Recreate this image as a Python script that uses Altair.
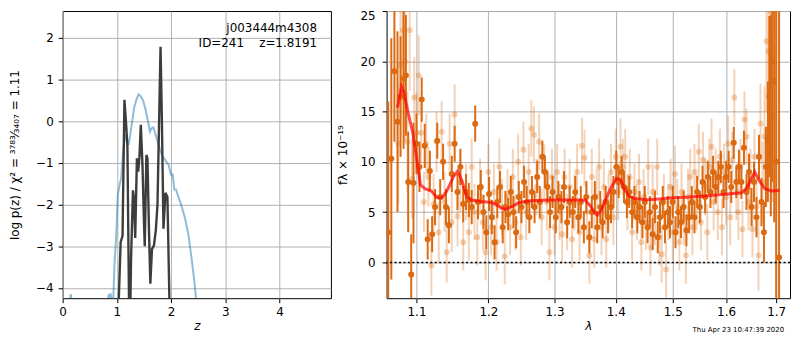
import altair as alt
import pandas as pd

# ---------------- left panel: p(z) ----------------
blue_z = [0.0, 0.12, 0.15, 0.18, 0.80, 0.83, 0.848, 0.865, 0.885, 0.905, 0.93, 0.958, 0.988, 1.018,
          1.04, 1.079, 1.12, 1.158, 1.19, 1.218, 1.26, 1.32, 1.364, 1.40, 1.44, 1.485, 1.533, 1.576,
          1.61, 1.64, 1.673, 1.715, 1.776, 1.836, 1.897, 1.958, 1.99, 2.006, 2.03, 2.06, 2.09, 2.14,
          2.20, 2.26, 2.32, 2.38, 2.43, 2.46, 2.55]
blue_y = [-6, -4.5, -4.15, -4.5, -6, -4.4, -4.15, -4.22, -4.13, -4.3, -4.4, -3.38, -2.76, -1.76,
          -1.6, -1.37, -0.67, -0.32, -0.45, -0.57, -0.21, 0.33, 0.53, 0.64, 0.6, 0.49, 0.26, -0.02,
          -0.25, -0.17, -0.15, -0.32, -0.6, -0.83, -0.94, -1.06, -1.25, -1.29, -1.28, -1.64, -1.64, -1.83,
          -2.06, -2.34, -2.72, -3.3, -3.84, -4.25, -5.5]

black_z = [1.00, 1.035, 1.07, 1.105, 1.14, 1.17, 1.195, 1.228, 1.245, 1.262, 1.297, 1.315, 1.339,
           1.37, 1.394, 1.418, 1.442, 1.473, 1.50, 1.515, 1.545, 1.565, 1.594, 1.618, 1.648, 1.685,
           1.72, 1.75, 1.806, 1.83, 1.86, 1.897, 1.933, 1.97, 2.0]
black_y = [-6, -4.3, -2.9, -2.75, 0.51, -0.05, -0.6, -4.8, -4.8, -3.3, -1.66, -1.85, -2.8,
           -0.89, -1.21, -0.83, -0.09, -1.06, -2.4, -3.0, -0.81, -0.9, -2.68, -3.9, -3.07, -2.98,
           -2.6, -1.99, 1.78, 0.1, -2.58, -1.72, -1.82, -4.3, -6]

z_ticks = [0, 1, 2, 3, 4]
logp_ticks = [-4, -3, -2, -1, 0, 1, 2]
obj_name = "j003444m4308"
obj_info = "ID=241\u00a0\u00a0\u00a0\u00a0z=1.8191"

# ---------------- right panel: spectrum ----------------
dark_lam = [1.063, 1.067, 1.071, 1.075, 1.079, 1.083, 1.086, 1.089, 1.093, 1.096, 1.100, 1.104, 1.107,
            1.111, 1.115, 1.118, 1.121, 1.125, 1.128, 1.132, 1.136, 1.140, 1.144, 1.148, 1.152, 1.156,
            1.160, 1.164, 1.168, 1.172, 1.176, 1.181, 1.185, 1.189, 1.193, 1.197, 1.201, 1.205, 1.209,
            1.213, 1.217, 1.221, 1.225, 1.229, 1.233, 1.237, 1.241, 1.245, 1.249, 1.253, 1.257, 1.261,
            1.265, 1.269, 1.273, 1.277, 1.281, 1.285, 1.289, 1.293, 1.297, 1.302, 1.306, 1.311, 1.315,
            1.320, 1.324, 1.329, 1.333, 1.338, 1.342, 1.347, 1.351, 1.356, 1.360, 1.365, 1.369, 1.374,
            1.378, 1.383, 1.387, 1.392, 1.396, 1.401, 1.405, 1.410, 1.414, 1.419, 1.423, 1.428, 1.432,
            1.437, 1.441, 1.446, 1.450, 1.455, 1.459, 1.464, 1.468, 1.473, 1.477, 1.482, 1.486, 1.491,
            1.495, 1.500, 1.505, 1.510, 1.515, 1.520, 1.525, 1.530, 1.535, 1.540, 1.545, 1.550, 1.555,
            1.560, 1.565, 1.570, 1.575, 1.580, 1.585, 1.590, 1.595, 1.600, 1.605, 1.610, 1.615, 1.620,
            1.625, 1.630, 1.635, 1.640, 1.645, 1.650, 1.655, 1.660, 1.665, 1.670, 1.675, 1.679, 1.683,
            1.686, 1.689, 1.692, 1.696, 1.700, 1.706]
dark_flux = [3.0, 10.3, 19.0, 14.0, 16.5, 18.3, 18.6, 8.0, -1.2, 7.9, 11.8, 9.5, 16.2,
             11.6, 2.3, 9.1, 2.8, 5.5, 12.1, 6.5, 10.0, 5.5, 3.7, 8.8, 11.8, 7.0,
             9.5, 5.8, 7.0, 6.2, 5.5, 13.8, 6.0, 7.5, 5.0, 3.0, 6.8, 4.5, 2.0,
             6.0, 7.5, 3.5, 5.5, 4.8, 7.0, 5.0, 3.0, 6.5, 5.5, 8.0, 6.0, 4.5,
             7.0, 5.5, 8.5, 6.0, 10.5, 9.0, 7.5, 5.0, 7.0, 4.5, 6.5, 5.5, 7.5,
             4.0, 6.0, 5.0, 7.0, 4.5, 6.0, 3.5, 6.5, 2.5, 5.0, 6.5, 3.5, 5.5,
             4.0, 6.0, 4.5, 5.5, 7.0, 9.5, 8.0, 9.0, 7.5, 6.0, 7.0, 5.0, 6.0,
             4.5, 5.5, 4.0, 6.0, 3.5, 5.0, 2.8, 5.5, 2.5, 4.5, 6.0, 3.5, 5.0,
             4.0, 6.0, 3.0, 5.0, 4.0, 5.5, 3.2, 4.5, 6.0, 4.5, 7.0, 5.5, 8.0,
             6.5, 8.5, 7.0, 9.0, 7.5, 8.5, 9.5, 7.0, 8.5, 9.5, 7.5, 11.9, 8.0,
             9.5, 8.0, 11.4, 7.0, 9.0, 5.5, 8.0, 4.5, 10.5, 6.0, 3.0, 9.5, 12.0,
             16.5, 14.6, 20.0, 18.0, 10.0, 0.5]
dark_err = [13, 12, 7, 9, 6, 7, 6, 5, 4, 6, 3, 2.5, 2.2,
            2.2, 2.0, 2.0, 1.8, 1.8, 1.8, 1.8, 1.8, 1.8, 1.8, 1.8, 1.8, 1.8,
            1.8, 1.8, 1.8, 1.7, 1.7, 1.8, 1.7, 1.7, 1.7, 1.7, 1.7, 1.7, 1.7,
            1.6, 1.6, 1.6, 1.6, 1.6, 1.6, 1.6, 1.6, 1.6, 1.6, 1.6, 1.6, 1.6,
            1.6, 1.6, 1.6, 1.6, 1.6, 1.6, 1.6, 1.6, 1.6, 1.6, 1.6, 1.6, 1.6,
            1.6, 1.6, 1.6, 1.6, 1.6, 1.6, 1.6, 1.6, 1.6, 1.6, 1.6, 1.6, 1.6,
            1.6, 1.6, 1.6, 1.6, 1.6, 1.6, 1.6, 1.6, 1.6, 1.6, 1.6, 1.6, 1.6,
            1.6, 1.6, 1.6, 1.6, 1.6, 1.6, 1.6, 1.6, 1.6, 1.6, 1.6, 1.6, 1.6,
            1.6, 1.6, 1.6, 1.6, 1.6, 1.6, 1.6, 1.6, 1.6, 1.6, 1.6, 1.6, 1.6,
            1.6, 1.6, 1.6, 1.6, 1.6, 1.6, 1.6, 1.6, 1.6, 1.6, 1.6, 1.6, 1.6,
            1.7, 1.7, 1.7, 1.8, 1.8, 1.9, 2.0, 2.0, 2.2, 2.4, 3.0, 4.0, 6.0,
            8, 10, 12, 14, 15, 25]

light_lam = [1.076, 1.079, 1.082, 1.085, 1.088, 1.091, 1.094, 1.097, 1.100, 1.103, 1.106, 1.110, 1.113,
             1.116, 1.120, 1.123, 1.127, 1.130, 1.134, 1.138, 1.141, 1.145, 1.148, 1.152, 1.156, 1.160,
             1.164, 1.168, 1.172, 1.176, 1.180, 1.184, 1.188, 1.192, 1.196, 1.200, 1.204, 1.208, 1.212,
             1.216, 1.220, 1.224, 1.228, 1.232, 1.236, 1.240, 1.244, 1.248, 1.252, 1.256, 1.260, 1.264,
             1.268, 1.272, 1.276, 1.280, 1.284, 1.288, 1.292, 1.296, 1.300, 1.304, 1.308, 1.312, 1.316,
             1.320, 1.324, 1.328, 1.332, 1.336, 1.340, 1.344, 1.348, 1.352, 1.356, 1.360, 1.364, 1.368,
             1.372, 1.376, 1.380, 1.384, 1.388, 1.392, 1.396, 1.400, 1.404, 1.408, 1.412, 1.416, 1.420,
             1.424, 1.428, 1.432, 1.436, 1.440, 1.444, 1.448, 1.452, 1.456, 1.460, 1.464, 1.468, 1.472,
             1.476, 1.480, 1.484, 1.488, 1.492, 1.496, 1.500, 1.504, 1.508, 1.512, 1.516, 1.520, 1.524,
             1.528, 1.532, 1.536, 1.540, 1.544, 1.548, 1.552, 1.556, 1.560, 1.564, 1.568, 1.572, 1.576,
             1.580, 1.584, 1.588, 1.592, 1.596, 1.600, 1.604, 1.608, 1.612, 1.616, 1.620, 1.624, 1.628,
             1.632, 1.636, 1.640, 1.644, 1.648, 1.652, 1.656, 1.660, 1.664, 1.668, 1.672, 1.676, 1.680,
             1.684, 1.688, 1.692]
light_flux = [11.8, 19.6, 23.1, 20.0, 12.0, 23.1, 8.3, 16.4, 12.9, 18.6, 12.9, 6.0, 11.8,
              8.5, -0.3, 5.8, 12.0, 3.0, 13.0, 6.0, 1.0, 11.8, 4.0, 14.7, 4.6, 8.0,
              2.0, 7.0, 3.0, 9.5, 5.0, 2.5, 7.5, 4.0, 1.0, 9.0, 3.5, 7.0, 2.0,
              9.5, 5.5, 0.6, 6.5, 3.5, 8.5, 4.0, 10.0, 2.5, 11.2, 5.0, 9.0, 13.3,
              12.7, 7.5, 12.0, 4.5, 9.0, 6.0, 1.0, 8.5, 3.5, 9.0, 5.0, 2.8, 8.5,
              4.0, 7.5, 2.3, 6.0, 9.0, 3.0, 11.6, 10.4, 5.0, 0.7, 8.5, 2.3, 6.5,
              9.5, 3.5, 7.5, 2.3, 6.0, 9.0, 4.5, 10.5, 7.0, 11.5, 9.5, 10.5, 6.0,
              8.5, 3.0, 7.0, 5.0, 8.0, 2.0, 6.5, 4.0, 9.5, 1.5, 7.0, 4.5, 9.5,
              2.5, 0.8, 6.0, -0.7, 5.0, 7.5, 3.0, 8.8, 5.5, 2.0, 7.0, 4.5, 0.7,
              6.5, 8.5, 3.5, 9.0, 6.0, 11.0, 4.0, 10.2, 7.5, 3.0, 9.5, 11.5, 6.0,
              8.5, 5.0, 10.5, 3.5, 9.0, 6.5, 11.8, 4.5, 10.2, 16.4, 7.0, 5.0, 9.5,
              3.3, 14.2, 12.5, 6.0, 8.5, 3.3, 10.5, 5.5, 0.7, 13.8, 8.0, 12.5, 22.0,
              21.0, 25.0, 18.0]
light_err = [6, 6, 7, 8, 5, 6, 4, 4, 4, 4, 3, 3, 3,
             3, 3, 3, 3, 3, 3, 3, 3, 3, 3, 3, 3, 3,
             2.8, 2.8, 2.8, 2.8, 2.8, 2.8, 2.8, 2.8, 2.8, 2.8, 2.8, 2.8, 2.8,
             2.8, 2.8, 2.8, 2.8, 2.8, 2.8, 2.8, 2.8, 2.8, 2.8, 2.8, 2.8, 2.8,
             2.8, 2.8, 2.8, 2.8, 2.8, 2.8, 2.8, 2.8, 2.8, 2.8, 2.8, 2.8, 2.8,
             2.8, 2.8, 2.8, 2.8, 2.8, 2.8, 2.8, 2.8, 2.8, 2.8, 2.8, 2.8, 2.8,
             2.8, 2.8, 2.8, 2.8, 2.8, 2.8, 2.8, 2.8, 2.8, 2.8, 2.8, 2.8, 2.8,
             2.8, 2.8, 2.8, 2.8, 2.8, 2.8, 2.8, 2.8, 2.8, 2.8, 2.8, 2.8, 2.8,
             2.8, 2.8, 2.8, 2.8, 2.8, 2.8, 2.8, 2.8, 2.8, 2.8, 2.8, 2.8, 2.8,
             2.8, 2.8, 2.8, 2.8, 2.8, 2.8, 2.8, 2.8, 2.8, 2.8, 2.8, 2.8, 2.8,
             2.8, 2.8, 2.8, 2.8, 2.8, 2.8, 2.8, 2.8, 2.8, 2.8, 2.8, 2.8, 2.8,
             2.8, 2.8, 2.8, 2.8, 2.8, 2.8, 2.8, 2.8, 3.5, 4, 4, 5, 7,
             9, 10, 12]

model_lam = [1.0749, 1.0804, 1.0834, 1.0891, 1.0951, 1.1009, 1.1053, 1.1119, 1.1199, 1.1276, 1.1343,
             1.1411, 1.1502, 1.1563, 1.1618, 1.1688, 1.1758, 1.1899, 1.2043, 1.2138, 1.2236, 1.2334,
             1.2457, 1.2633, 1.2939, 1.3252, 1.3492, 1.3573, 1.3638, 1.3692, 1.3763, 1.3902, 1.4012,
             1.4086, 1.4154, 1.4227, 1.4324, 1.4528, 1.4699, 1.4995, 1.5297, 1.5603, 1.5918, 1.6303,
             1.6401, 1.6500, 1.6565, 1.6645, 1.6765, 1.6900, 1.7069]
model_flux = [15.4, 17.5, 16.9, 14.8, 12.9, 10.0, 7.7, 7.3, 7.1, 6.45, 6.4,
              7.1, 8.5, 9.1, 8.2, 6.6, 6.2, 6.06, 5.96, 5.64, 5.26, 5.5,
              5.96, 6.12, 6.2, 6.2, 6.2, 5.64, 5.0, 4.7, 5.3, 7.24, 8.36,
              8.2, 7.24, 6.6, 6.35, 6.22, 6.28, 6.44, 6.5, 6.6, 6.76, 6.92,
              7.4, 8.36, 9.0, 8.2, 7.34, 7.1, 7.15]

lam_ticks = [1.1, 1.2, 1.3, 1.4, 1.5, 1.6, 1.7]
flux_ticks = [0, 5, 10, 15, 20, 25]
timestamp = "Thu Apr 23 10:47:39 2020"

FONT = "DejaVu Sans"
ORANGE = "#dc6a12"
H = 289

# ---------------- build left ----------------
zscale = alt.Scale(domain=[0, 4.95], nice=False, zero=False)
pscale = alt.Scale(domain=[-4.245, 2.64], nice=False, zero=False)
zx_axis = alt.Axis(values=z_ticks, format="d", title="z", titleFontStyle="italic",
                   labelPadding=4, titlePadding=3, labelFlush=False)
py_axis = alt.Axis(values=logp_ticks, format="d",
                   title="log p(z) / χ² = ³⁷⁸³⁄₃₄₀₇ = 1.11",
                   labelPadding=5, titlePadding=14)

df_blue = pd.DataFrame({"z": blue_z, "y": blue_y})
df_black = pd.DataFrame({"z": black_z, "y": black_y})

blue = alt.Chart(df_blue).mark_line(color="#1f77b4", opacity=0.5, strokeWidth=2, clip=True).encode(
    x=alt.X("z:Q", scale=zscale, axis=zx_axis),
    y=alt.Y("y:Q", scale=pscale, axis=py_axis),
)
black = alt.Chart(df_black).mark_line(color="#333333", opacity=0.95, strokeWidth=2.4, clip=True).encode(
    x=alt.X("z:Q", scale=zscale),
    y=alt.Y("y:Q", scale=pscale),
)
ann1 = alt.Chart(pd.DataFrame({"t": [obj_name]})).mark_text(
    align="right", baseline="alphabetic", fontSize=12, font=FONT, color="black"
).encode(text="t:N", x=alt.value(256), y=alt.value(21))
ann2 = alt.Chart(pd.DataFrame({"t": [obj_info]})).mark_text(
    align="right", baseline="alphabetic", fontSize=12, font=FONT, color="black"
).encode(text="t:N", x=alt.value(256), y=alt.value(36))

left = alt.layer(blue, black, ann1, ann2).properties(width=270, height=H)

# ---------------- build right ----------------
lscale = alt.Scale(type="log", domain=[1.0609, 1.7287], nice=False)
fscale = alt.Scale(domain=[-3.56, 25], nice=False, zero=False)
lx_axis = alt.Axis(values=lam_ticks, format=".1f", title="λ", titleFontStyle="italic",
                   labelPadding=4, titlePadding=3, labelFlush=False)
fy_axis = alt.Axis(values=flux_ticks, format="d", title="fλ × 10⁻¹⁹",
                   labelPadding=7, titlePadding=11, labelFlush=True)

df_dark = pd.DataFrame({"lam": dark_lam, "f": dark_flux, "e": dark_err})
df_light = pd.DataFrame({"lam": light_lam, "f": light_flux, "e": light_err})
df_model = pd.DataFrame({"lam": model_lam, "f": model_flux})


def points(df, opacity):
    base = alt.Chart(df).transform_calculate(lo="datum.f - datum.e", hi="datum.f + datum.e")
    bars = base.mark_rule(color=ORANGE, opacity=opacity, strokeWidth=2, clip=True).encode(
        x=alt.X("lam:Q", scale=lscale, axis=lx_axis),
        y=alt.Y("lo:Q", scale=fscale, axis=fy_axis),
        y2="hi:Q",
    )
    dots = base.mark_circle(color=ORANGE, opacity=opacity, size=36, clip=True).encode(
        x=alt.X("lam:Q", scale=lscale),
        y=alt.Y("f:Q", scale=fscale),
    )
    return bars, dots


dbars, ddots = points(df_dark, 1.0)
lbars, ldots = points(df_light, 0.3)

model = alt.Chart(df_model).mark_line(color="#ff0000", opacity=0.7, strokeWidth=3, clip=True).encode(
    x=alt.X("lam:Q", scale=lscale),
    y=alt.Y("f:Q", scale=fscale),
)
zero = alt.Chart(pd.DataFrame({"y": [0]})).mark_rule(
    color="black", strokeDash=[2, 2.5], strokeWidth=1.5
).encode(y=alt.Y("y:Q", scale=fscale))
stamp = alt.Chart(pd.DataFrame({"t": [timestamp]})).mark_text(
    align="right", baseline="alphabetic", fontSize=7, font=FONT, color="black"
).encode(text="t:N", x=alt.value(400), y=alt.value(H + 34))

right = alt.layer(dbars, ddots, lbars, ldots, model, zero, stamp).properties(width=406, height=H)

chart = alt.hconcat(left, right, spacing=56, bounds="flush").properties(
    padding=0
).configure(font=FONT).configure_axis(
    labelFont=FONT, labelFontSize=12, labelColor="black",
    titleFont=FONT, titleFontSize=12, titleFontWeight="normal", titleColor="black",
    tickColor="black", tickSize=4.5, tickWidth=1,
    gridColor="#b0b0b0", gridWidth=1, domain=False,
).configure_view(stroke="black", strokeWidth=1)

chart.save("out.html", embed_options={"renderer": "svg", "actions": False})
